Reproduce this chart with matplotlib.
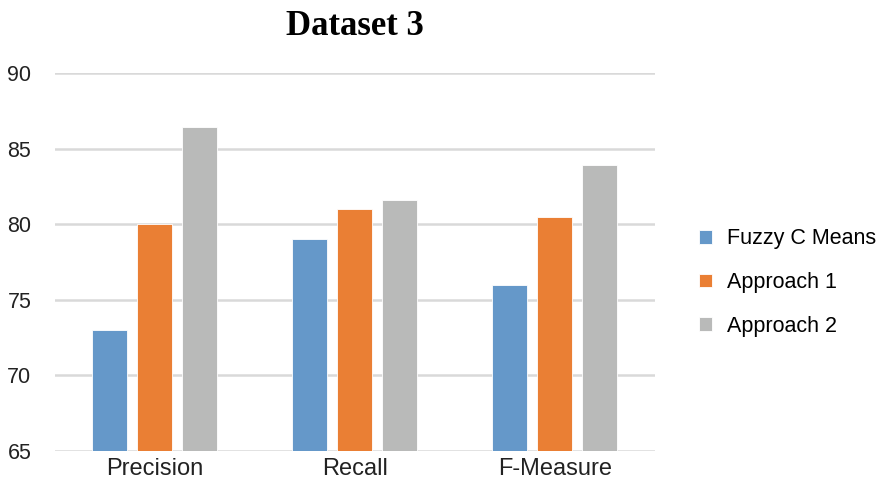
import matplotlib

matplotlib.use("Agg")
import matplotlib.pyplot as plt
import numpy as np

categories = ["Precision", "Recall", "F-Measure"]
series_names = ["Fuzzy C Means", "Approach 1", "Approach 2"]
fuzzy_c_means = [73, 79, 76]
approach_1 = [80, 81, 80.5]
approach_2 = [86.4, 81.6, 83.9]
y_ticks = [65, 70, 75, 80, 85, 90]

colours = ["#6598C9", "#EA7F34", "#B9BAB9"]

plt.rcParams.update({"font.family": ["Liberation Sans", "DejaVu Sans"]})

fig = plt.figure(figsize=(8.85, 4.83), dpi=100)
ax = fig.add_axes([0.0621, 0.0663, 0.678, 0.7826])

x = np.arange(len(categories))
width = 0.175
step = 0.225
for i, (vals, name) in enumerate(zip([fuzzy_c_means, approach_1, approach_2], series_names)):
    ax.bar(x + (i - 1) * step, np.array(vals) - 65, width, bottom=65,
           color=colours[i], edgecolor="white", linewidth=0.6, label=name, zorder=3)

ax.set_xlim(-0.5, len(categories) - 0.5)
ax.set_ylim(65, 90)
ax.set_yticks(y_ticks)
ax.set_yticklabels([str(t) for t in y_ticks], fontsize=15.5, color="#222222")
ax.set_xticks(x)
ax.set_xticklabels(categories, fontsize=17, color="#222222")
ax.tick_params(axis="both", length=0)
ax.tick_params(axis="y", pad=17)
ax.tick_params(axis="x", pad=5)
ax.grid(axis="y", color="#D9D9D9", linewidth=1.8, zorder=0)
for s in ax.spines.values():
    s.set_visible(False)

fig.text(0.401, 0.945, "Dataset 3", fontsize=25, fontweight="bold",
         family="Liberation Serif", ha="center", va="center")

fig.legend(loc="center left", bbox_to_anchor=(0.768, 0.415), frameon=False,
           fontsize=15.5, handlelength=0.6, handleheight=0.6, handletextpad=0.7,
           labelspacing=1.05)

fig.savefig("out.png", dpi=100, facecolor="white")
